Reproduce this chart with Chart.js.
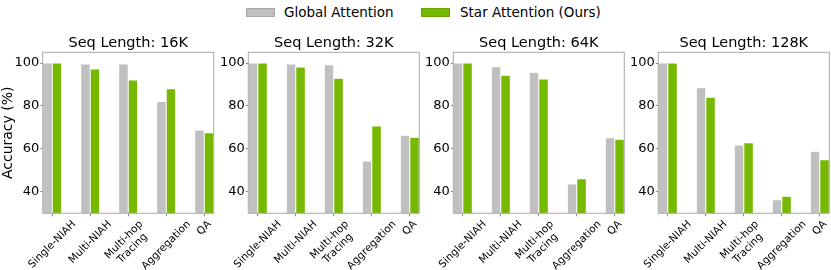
<!DOCTYPE html>
<html>
<head>
<meta charset="utf-8">
<script src="https://cdn.jsdelivr.net/npm/chart.js@4"></script>
<style>
  body { margin: 0; background: #fff; }
  #wrap { position: relative; width: 831px; height: 270px; overflow: hidden; background: #fff; font-family: "DejaVu Sans", sans-serif; }
  canvas { position: absolute; }
  .patch { position: absolute; width: 27px; height: 7px; }
  .ltext { position: absolute; font-size: 13.5px; line-height: 16px; color: #000; white-space: nowrap; }
</style>
</head>
<body>
<div id="wrap">
  <div class="patch" style="left:246px; top:8px; background:#c0c0c0; border:0.5px solid #a8a8a8;"></div>
  <div class="ltext" style="left:284px; top:4px;">Global Attention</div>
  <div class="patch" style="left:421px; top:8px; background:#76b900; border:0.5px solid #6aa600;"></div>
  <div class="ltext" style="left:460px; top:4px;">Star Attention (Ours)</div>
</div>
<script>
// categories on the x axis
const categories = [['Single-NIAH'], ['Multi-NIAH'], ['Multi-hop', 'Tracing'], ['Aggregation'], ['QA']];
const panelTitles = ['Seq Length: 16K', 'Seq Length: 32K', 'Seq Length: 64K', 'Seq Length: 128K'];
const seriesNames = ['Global Attention', 'Star Attention (Ours)'];
const yTicks = [40, 60, 80, 100];

// accuracy values, one array per panel and series
const global16k = [100, 99.6, 99.6, 82.1, 68.8];
const star16k   = [100, 97.2, 92.1, 88.0, 67.5];
const global32k = [100, 99.5, 99.2, 54.4, 66.4];
const star32k   = [100, 98.1, 92.9, 70.7, 65.4];
const global64k = [100, 98.3, 95.7, 43.7, 65.2];
const star64k   = [100, 94.3, 92.6, 46.1, 64.5];
const global128k = [100, 88.5, 61.8, 36.3, 58.9];
const star128k   = [100, 84.1, 62.9, 38.0, 54.9];

const globalSets = [global16k, global32k, global64k, global128k];
const starSets = [star16k, star32k, star64k, star128k];

Chart.defaults.font.family = '"DejaVu Sans", sans-serif';
Chart.defaults.color = '#000';

// plot area left edges, width fixed
const plotLeft = [42.7, 248.3, 453.3, 658.3];
const canvasLeft = [0, 212, 417, 622];
const plotW = 171;
const canvasTop = 28;
const canvasH = 270 - canvasTop;

// frame on all four sides (like matplotlib spines)
const framePlugin = {
  id: 'frame',
  afterDatasetsDraw(chart) {
    const { ctx, chartArea } = chart;
    ctx.save();
    ctx.strokeStyle = '#a9a9a9';
    ctx.lineWidth = 1;
    ctx.strokeRect(chartArea.left, chartArea.top, chartArea.right - chartArea.left, chartArea.bottom - chartArea.top);
    ctx.restore();
  }
};

// rotated x labels centred on the tick (matplotlib style, ha=center)
const xLabelPlugin = {
  id: 'xlabels',
  afterDraw(chart) {
    const { ctx } = chart;
    const xs = chart.scales.x;
    const size = 10.5, lineH = 12;
    ctx.save();
    ctx.font = size + 'px "DejaVu Sans"';
    ctx.fillStyle = '#000';
    ctx.textAlign = 'center';
    ctx.textBaseline = 'middle';
    categories.forEach((lines, i) => {
      const px = xs.getPixelForValue(i);
      const w = Math.max(...lines.map(l => ctx.measureText(l).width));
      const h = lines.length * lineH;
      const cy = chart.chartArea.bottom + 5 + (w + h) / (2 * Math.SQRT2);
      ctx.save();
      ctx.translate(px, cy);
      ctx.rotate(-Math.PI / 4);
      lines.forEach((l, j) => ctx.fillText(l, 0, (j - (lines.length - 1) / 2) * lineH));
      ctx.restore();
    });
    ctx.restore();
  }
};

function makePanel(p) {
  const axisW = plotLeft[p] - canvasLeft[p];
  const W = Math.ceil(axisW + plotW + 2);
  const padR = W - axisW - plotW;

  const cv = document.createElement('canvas');
  cv.width = W;
  cv.height = canvasH;
  cv.style.left = canvasLeft[p] + 'px';
  cv.style.top = canvasTop + 'px';
  cv.style.width = W + 'px';
  cv.style.height = canvasH + 'px';
  document.getElementById('wrap').appendChild(cv);

  const toPoints = arr => arr.map((v, i) => ({ x: i, y: v }));

  new Chart(cv.getContext('2d'), {
    type: 'bar',
    data: {
      datasets: [
        { label: seriesNames[0], data: toPoints(globalSets[p]), backgroundColor: '#c0c0c0', borderColor: 'rgba(255,255,255,0.6)', borderWidth: 0.5, base: 30 },
        { label: seriesNames[1], data: toPoints(starSets[p]), backgroundColor: '#76b900', borderColor: 'rgba(255,255,255,0.5)', borderWidth: 0.5, base: 30 }
      ]
    },
    options: {
      responsive: false,
      animation: false,
      categoryPercentage: 0.5,
      barPercentage: 1,
      layout: { padding: { top: 6.9, left: 0, right: padR, bottom: 0 } },
      plugins: {
        legend: { display: false },
        tooltip: { enabled: false },
        title: {
          display: true,
          fullSize: false,
          text: panelTitles[p],
          font: { size: 14.5, weight: 'normal' },
          color: '#000',
          padding: { top: 0, bottom: 0 }
        }
      },
      scales: {
        x: {
          type: 'linear',
          offset: false,
          min: -0.25,
          max: 4.25,
          afterBuildTicks: s => { s.ticks = categories.map((c, i) => ({ value: i })); },
          afterFit: s => { s.height = 270 - 213.3; },
          ticks: { display: false },
          grid: { offset: false, drawOnChartArea: false, drawTicks: true, tickLength: 3, color: '#888' },
          border: { display: false }
        },
        y: {
          min: 30,
          max: 105,
          afterBuildTicks: s => { s.ticks = yTicks.map(v => ({ value: v })); },
          afterFit: s => { s.width = axisW; },
          ticks: { font: { size: 13 }, padding: 1, color: '#000' },
          grid: { drawOnChartArea: false, drawTicks: true, tickLength: 2.5, color: '#888' },
          border: { display: false },
          title: {
            display: p === 0,
            text: 'Accuracy (%)',
            font: { size: 14 },
            color: '#000',
            padding: 0
          }
        }
      }
    },
    plugins: [framePlugin, xLabelPlugin]
  });
}

for (let p = 0; p < 4; p++) makePanel(p);
</script>
</body>
</html>
